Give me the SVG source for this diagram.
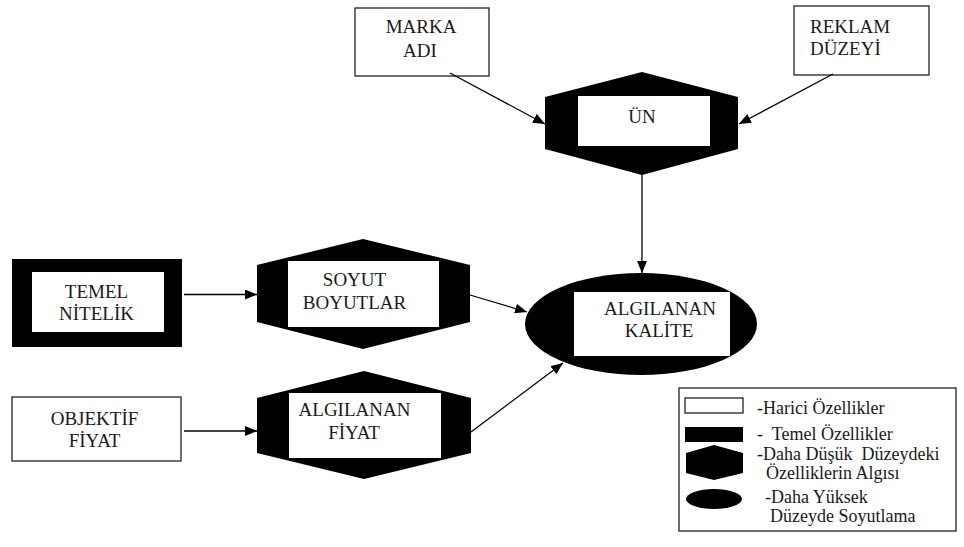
<svg xmlns="http://www.w3.org/2000/svg" width="964" height="547" viewBox="0 0 964 547">
<defs>
<marker id="ah" viewBox="0 0 12 10" refX="12" refY="5" markerWidth="12" markerHeight="10" markerUnits="userSpaceOnUse" orient="auto">
<path d="M0,0 L12,5 L0,10 Z" fill="#000"/>
</marker>
</defs>
<style>
text{font-family:Liberation Serif,Tinos,DejaVu Serif,Times New Roman,Times,serif;font-size:19px;fill:#1a1a1a}
.c{text-anchor:middle}
.lg{font-size:18px;white-space:pre}
.box{fill:#fff;stroke:#222;stroke-width:1.3}
.blk{fill:#000}
.in{fill:#fff}
.con{stroke:#000;stroke-width:1.3;fill:none;marker-end:url(#ah)}
</style>
<rect width="964" height="547" fill="#fff"/>

<g id="marka">
<rect class="box" x="355" y="8" width="134" height="68"/>
<text class="c" x="421" y="33">MARKA</text>
<text class="c" x="420" y="56.5">ADI</text>
</g>

<g id="reklam">
<rect class="box" x="794" y="6" width="135" height="69"/>
<text x="810" y="33">REKLAM</text>
<text x="810" y="55">DÜZEYİ</text>
</g>

<g id="un">
<polygon class="blk" points="642,72 738,97 738,149 642,175 545,149 545,97"/>
<rect class="in" x="578" y="96" width="132" height="50"/>
<text class="c" x="642" y="122.5">ÜN</text>
</g>

<g id="temel">
<rect class="blk" x="12" y="259" width="170" height="88"/>
<rect class="in" x="32" y="272" width="132" height="60"/>
<text class="c" x="96.5" y="298">TEMEL</text>
<text class="c" x="96.5" y="320">NİTELİK</text>
</g>

<g id="objektif">
<rect class="box" x="12" y="397" width="169" height="64"/>
<text class="c" x="94.5" y="425">OBJEKTİF</text>
<text class="c" x="94.5" y="447">FİYAT</text>
</g>

<g id="soyut">
<polygon class="blk" points="363,239 470,265 470,322 363,349 257,322 257,265"/>
<rect class="in" x="288" y="261" width="151" height="66"/>
<text class="c" x="354.5" y="285.5">SOYUT</text>
<text class="c" x="354.5" y="308.5">BOYUTLAR</text>
</g>

<g id="fiyat">
<polygon class="blk" points="364,371 471,398 471,453 364,479 257,453 257,398"/>
<rect class="in" x="289" y="393" width="152" height="65"/>
<text class="c" x="354.5" y="416">ALGILANAN</text>
<text class="c" x="354" y="439">FİYAT</text>
</g>

<g id="kalite">
<ellipse class="blk" cx="641" cy="324" rx="116" ry="51"/>
<rect class="in" x="574" y="292" width="156" height="64"/>
<text class="c" x="660" y="315">ALGILANAN</text>
<text class="c" x="659" y="337">KALİTE</text>
</g>

<g id="connectors">
<line class="con" x1="450" y1="73" x2="545" y2="124"/>
<line class="con" x1="833" y1="74" x2="739" y2="124"/>
<line class="con" x1="642" y1="175" x2="642" y2="273"/>
<line class="con" x1="184" y1="294.5" x2="257" y2="294.5"/>
<line class="con" x1="184" y1="431" x2="257" y2="431"/>
<line class="con" x1="470" y1="295" x2="527" y2="312"/>
<line class="con" x1="471" y1="432" x2="563" y2="363"/>
</g>

<g id="legend">
<rect class="box" x="679" y="388" width="277" height="143"/>
<rect class="box" x="685" y="398" width="58" height="15"/>
<rect class="blk" x="685" y="427" width="58" height="15"/>
<polygon class="blk" points="714,445 743,453 743,473 714,480 686,473 686,453"/>
<ellipse class="blk" cx="714" cy="499" rx="28" ry="10"/>
<text class="lg" x="757" y="414">-Harici Özellikler</text>
<text class="lg" x="757" y="440">-  Temel Özellikler</text>
<text class="lg" x="757" y="460">-Daha Düşük  Düzeydeki</text>
<text class="lg" x="766" y="479">Özelliklerin Algısı</text>
<text class="lg" x="765" y="503">-Daha Yüksek</text>
<text class="lg" x="770" y="522">Düzeyde Soyutlama</text>
</g>
</svg>
